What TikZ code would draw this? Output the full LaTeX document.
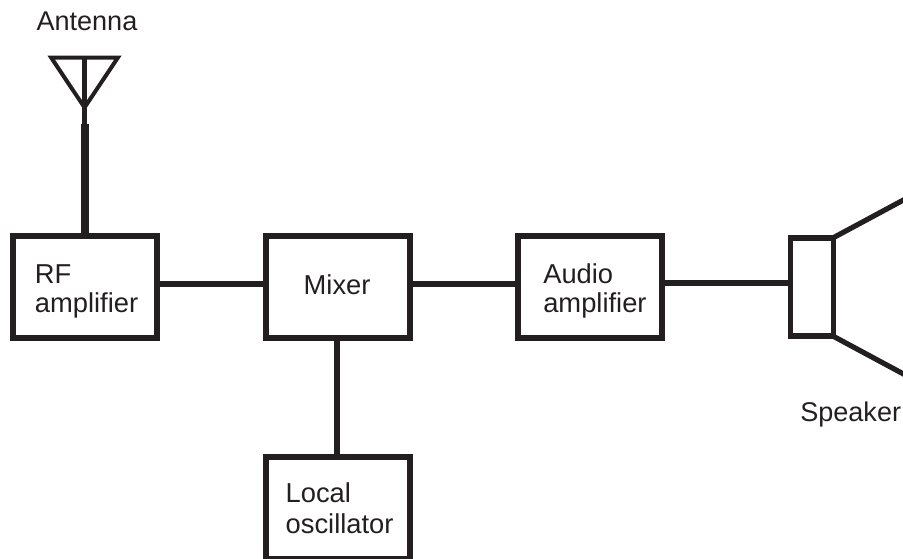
\documentclass[tikz,border=0pt]{standalone}
\usepackage{fontspec}
\setmainfont{Liberation Sans}
\usetikzlibrary{positioning}
\definecolor{inkblack}{HTML}{231F20}
\tikzset{
  block/.style={draw=inkblack,line width=4.5pt,minimum width=108pt,minimum height=76.5pt,inner sep=0pt},
  blocktext/.style={align=left,text=inkblack,inner sep=0pt,font=\fontsize{20.5}{21.5}\selectfont},
  wire/.style={draw=inkblack,line width=4.5pt},
  caption/.style={text=inkblack,font=\fontsize{20.3}{21}\selectfont,inner sep=0pt}
}
\begin{document}
\begin{tikzpicture}[on grid]
\useasboundingbox (0,0) rectangle (677.25pt,419.25pt);
\node[block] (rf) at (63.4pt,204pt) {};
\node[block] (mixer) [right=190.3pt of rf] {};
\node[block] (audio) [right=188.8pt of mixer] {};
\node[block] (local) [below=165.75pt of mixer] {};
\node[draw=inkblack,line width=3.9pt,minimum width=32pt,minimum height=73.5pt,inner sep=0pt] (speaker) [right=166.5pt of audio] {};
\node[blocktext] (rftext) at ([shift={(1.5pt,-3.4pt)}]rf) {RF\\amplifier};
\node[blocktext] (mixertext) at ([shift={(-.9pt,1.8pt)}]mixer) {Mixer};
\node[blocktext] (audiotext) at ([shift={(3.7pt,-3pt)}]audio) {Audio\\amplifier};
\node[blocktext] (localtext) at ([shift={(1pt,-.4pt)}]local) {Local\\[1.5pt]oscillator};
\coordinate[above=122pt of rf] (joint);
\coordinate[above=134.6pt of rf] (tip);
\coordinate[above=172pt of rf] (top);
\coordinate[left=25pt of top] (topleft);
\coordinate[right=25pt of top] (topright);
\coordinate (hornup) at ([shift={(70pt,66pt)}]speaker.center);
\coordinate (horndown) at ([shift={(70pt,-66pt)}]speaker.center);
\node[caption] (antenna) [above=20pt of top,xshift=1.8pt] {Antenna};
\node[caption] (speakername) [below=95.5pt of speaker,xshift=29pt] {Speaker};
\draw[wire,line width=6pt] (rf) -- (joint);
\draw[wire,line width=3.9pt] (joint) -- (top);
\draw[wire,line width=3pt,line join=miter] (topleft) -- (topright) -- (tip) -- cycle;
\draw[wire] ([yshift=2.25pt]rf.east) -- ([yshift=2.25pt]mixer.west);
\draw[wire] ([yshift=2.25pt]mixer.east) -- ([yshift=2.25pt]audio.west);
\draw[wire] ([xshift=-1.2pt]mixer.south) -- ([xshift=-1.2pt]local.north);
\draw[wire] ([yshift=3pt]audio.east) -- ([yshift=3pt]speaker.west);
\draw[wire,line width=3.9pt] ([shift={(-1.5pt,-1.5pt)}]speaker.north east) -- (hornup);
\draw[wire,line width=3.9pt] ([shift={(-1.5pt,1.5pt)}]speaker.south east) -- (horndown);
\end{tikzpicture}
\end{document}
